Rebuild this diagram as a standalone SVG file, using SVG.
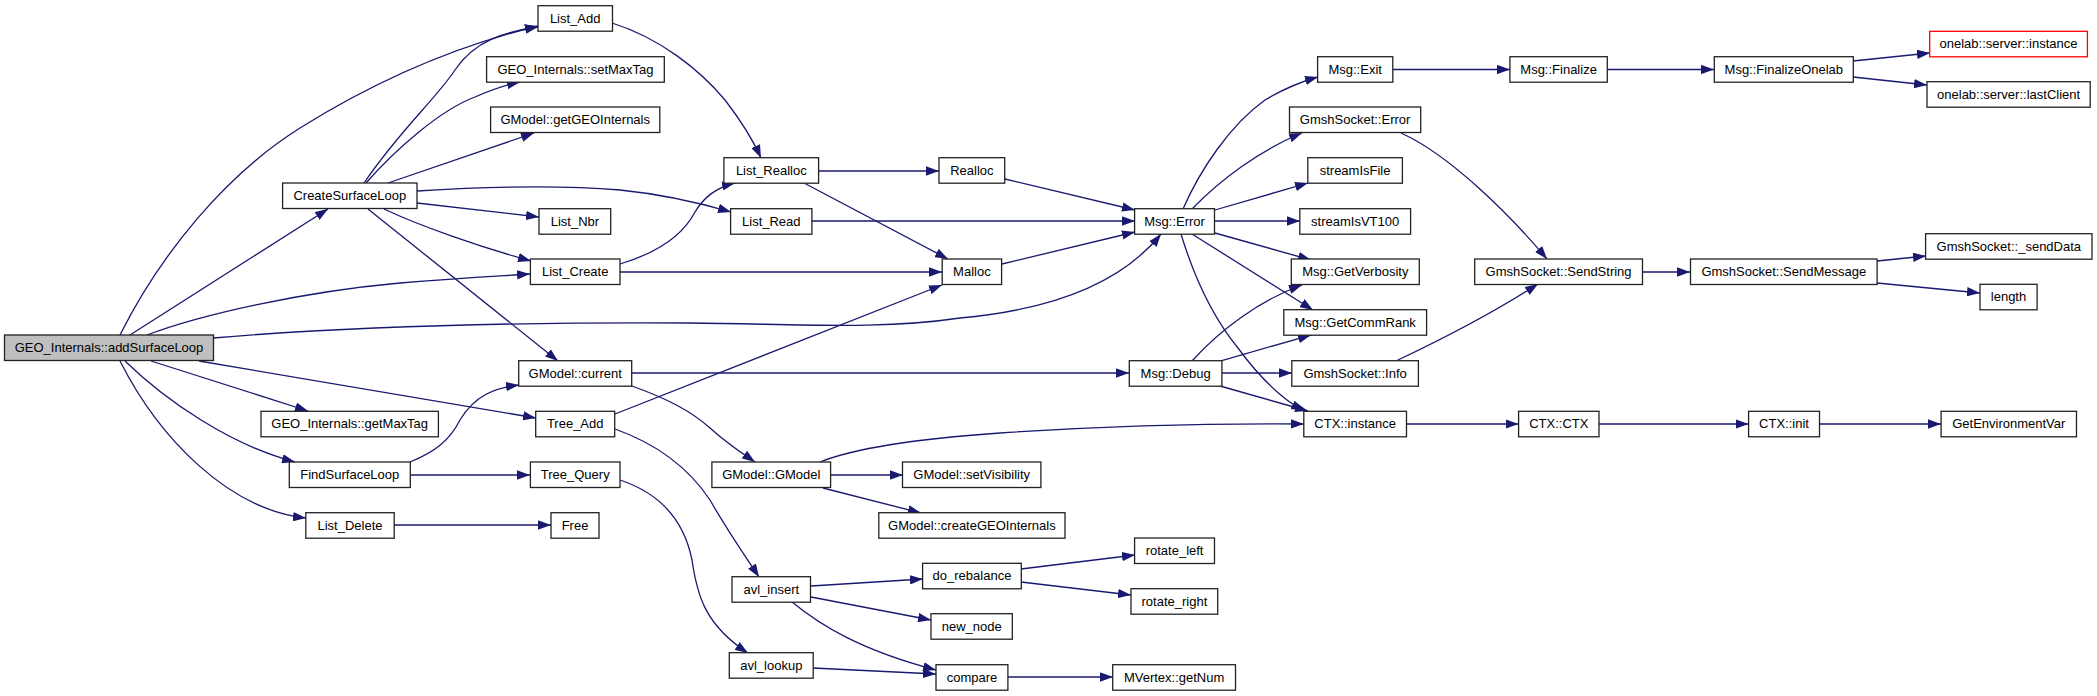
<svg xmlns="http://www.w3.org/2000/svg" width="2097" height="696" viewBox="0 0 2097 696">
<style>
.n rect{fill:#fff;stroke:#222;stroke-width:1.3}
.n text{font-family:"Liberation Sans",Arial,Helvetica,sans-serif;font-size:13px;text-anchor:middle;fill:#000}
#n0 rect{fill:#bfbfbf}
#n45 rect{stroke:#ff0000}
.e path{fill:none;stroke:#191970;stroke-width:1.3;marker-end:url(#a)}
</style>
<defs>
<marker id="a" markerUnits="userSpaceOnUse" viewBox="0 0 13 9.4" refX="13" refY="4.7" markerWidth="13" markerHeight="9.4" orient="auto"><path d="M0,0 L13,4.7 L0,9.4 z" fill="#191970"/></marker>
</defs>
<rect width="2097" height="696" fill="#fff"/>
<g id="edges" class="e">
<path d="M120,335 C160,255 225,175 300,128 C380,78 460,45 538,26"/>
<path d="M130,335 L328,209"/>
<path d="M147,335 C200,315 300,292 400,283 C460,278 500,276 530,274"/>
<path d="M213,338 C330,328 500,322 690,323 C800,324 880,330 960,318 C1050,310 1120,285 1161,234"/>
<path d="M151,361 L308,411"/>
<path d="M125,361 C165,400 230,445 295,462"/>
<path d="M120,361 C160,440 230,510 306,518"/>
<path d="M199,361 L536,418"/>
<path d="M364,183 C400,130 435,100 455,70 C475,40 505,32 538,27"/>
<path d="M366,183 C395,150 440,110 475,97 C495,88 505,85 520,82"/>
<path d="M388,183 L534,133"/>
<path d="M417,191 C480,187 560,185 620,190 C660,194 700,203 731,212"/>
<path d="M417,203 L539,217"/>
<path d="M384,209 C420,226 480,247 531,261"/>
<path d="M368,209 L558,361"/>
<path d="M612,23 C660,38 700,70 725,100 C742,122 753,140 761,158"/>
<path d="M620,264 C660,252 683,235 695,212 C705,195 718,187 735,183"/>
<path d="M620,272 L942,272"/>
<path d="M819,171 L939,171"/>
<path d="M804,183 L948,259"/>
<path d="M812,221 L1135,221"/>
<path d="M1005,179 L1135,210"/>
<path d="M1002,264 L1135,232"/>
<path d="M615,414 L942,285"/>
<path d="M632,373 L1129,373"/>
<path d="M632,386 C665,398 690,410 710,428 C730,446 745,455 755,462"/>
<path d="M615,429 C660,445 690,470 710,500 C730,535 748,560 759,577"/>
<path d="M620,480 C665,495 685,525 692,560 C697,595 705,625 748,653"/>
<path d="M410,462 C435,452 450,440 460,420 C475,395 495,388 519,385"/>
<path d="M410,475 L530,475"/>
<path d="M394,525 L551,525"/>
<path d="M811,586 L923,579"/>
<path d="M811,597 L931,620"/>
<path d="M792,602 C820,625 860,650 936,670"/>
<path d="M813,668 L936,674"/>
<path d="M1021,569 L1135,555"/>
<path d="M1021,582 L1131,595"/>
<path d="M1008,677 L1113,677"/>
<path d="M820,462 C850,450 900,440 1000,433 C1120,425 1220,423.5 1304,424"/>
<path d="M831,475 L903,475"/>
<path d="M823,488 L921,513"/>
<path d="M1222,373 L1292,373"/>
<path d="M1220,386 L1308,411"/>
<path d="M1181,234 C1195,280 1215,320 1238,348 C1260,378 1280,398 1304,411"/>
<path d="M1192,361 C1220,330 1260,300 1302,285"/>
<path d="M1220,361 L1311,335"/>
<path d="M1183,209 C1200,170 1230,125 1265,100 C1285,88 1300,82 1318,77"/>
<path d="M1192,209 C1220,180 1260,150 1302,133"/>
<path d="M1215,210 L1308,183"/>
<path d="M1215,221 L1300,221"/>
<path d="M1215,233 L1311,260"/>
<path d="M1192,234 L1313,310"/>
<path d="M1393,69.5 L1510,69.5"/>
<path d="M1607,69.5 L1714,69.5"/>
<path d="M1853,61 L1930,53"/>
<path d="M1853,77 L1927,85"/>
<path d="M1401,133 C1450,155 1510,215 1547,259"/>
<path d="M1396,361 C1430,345 1490,315 1538,284"/>
<path d="M1642,272 L1690,272"/>
<path d="M1877,261 L1926,256"/>
<path d="M1877,283 L1980,293"/>
<path d="M1406.5,424 L1518.6,424"/>
<path d="M1599,424 L1748.6,424"/>
<path d="M1819.5,424 L1941,424"/>
</g>
<g id="n0" class="n"><rect x="4.5" y="335" width="209" height="25.5"/><text x="109" y="352">GEO_Internals::addSurfaceLoop</text></g>
<g id="n1" class="n"><rect x="282.6" y="183" width="134.4" height="25.5"/><text x="349.8" y="200">CreateSurfaceLoop</text></g>
<g id="n2" class="n"><rect x="261" y="411.3" width="177.4" height="25.5"/><text x="349.7" y="428.3">GEO_Internals::getMaxTag</text></g>
<g id="n3" class="n"><rect x="289.3" y="462" width="121" height="25.5"/><text x="349.8" y="479">FindSurfaceLoop</text></g>
<g id="n4" class="n"><rect x="305.8" y="512.7" width="88.4" height="25.5"/><text x="350" y="529.7">List_Delete</text></g>
<g id="n5" class="n"><rect x="538" y="5.7" width="74.5" height="25.5"/><text x="575.2" y="22.7">List_Add</text></g>
<g id="n6" class="n"><rect x="486.6" y="56.7" width="177.7" height="25.5"/><text x="575.5" y="73.7">GEO_Internals::setMaxTag</text></g>
<g id="n7" class="n"><rect x="490.6" y="107" width="169.2" height="25.5"/><text x="575.2" y="124">GModel::getGEOInternals</text></g>
<g id="n8" class="n"><rect x="539" y="208.7" width="71.7" height="25.5"/><text x="574.9" y="225.7">List_Nbr</text></g>
<g id="n9" class="n"><rect x="530.4" y="259" width="89.6" height="25.5"/><text x="575.2" y="276">List_Create</text></g>
<g id="n10" class="n"><rect x="518.7" y="360.7" width="113" height="25.5"/><text x="575.2" y="377.7">GModel::current</text></g>
<g id="n11" class="n"><rect x="535.7" y="411.3" width="79" height="25.5"/><text x="575.2" y="428.3">Tree_Add</text></g>
<g id="n12" class="n"><rect x="530.4" y="462" width="89.6" height="25.5"/><text x="575.2" y="479">Tree_Query</text></g>
<g id="n13" class="n"><rect x="551" y="512.7" width="48" height="25.5"/><text x="575" y="529.7">Free</text></g>
<g id="n14" class="n"><rect x="723.9" y="157.7" width="94.7" height="25.5"/><text x="771.3" y="174.7">List_Realloc</text></g>
<g id="n15" class="n"><rect x="730.6" y="208.7" width="81.3" height="25.5"/><text x="771.3" y="225.7">List_Read</text></g>
<g id="n16" class="n"><rect x="711.9" y="462" width="118.7" height="25.5"/><text x="771.3" y="479">GModel::GModel</text></g>
<g id="n17" class="n"><rect x="732" y="576.7" width="78.5" height="25.5"/><text x="771.3" y="593.7">avl_insert</text></g>
<g id="n18" class="n"><rect x="729.3" y="652.7" width="83.9" height="25.5"/><text x="771.3" y="669.7">avl_lookup</text></g>
<g id="n19" class="n"><rect x="939" y="157.7" width="65.7" height="25.5"/><text x="971.9" y="174.7">Realloc</text></g>
<g id="n20" class="n"><rect x="942.2" y="259" width="59.4" height="25.5"/><text x="971.9" y="276">Malloc</text></g>
<g id="n21" class="n"><rect x="902.5" y="462" width="138.4" height="25.5"/><text x="971.7" y="479">GModel::setVisibility</text></g>
<g id="n22" class="n"><rect x="878.8" y="512.7" width="186.2" height="25.5"/><text x="971.9" y="529.7">GModel::createGEOInternals</text></g>
<g id="n23" class="n"><rect x="922.6" y="563.3" width="98.7" height="25.5"/><text x="972" y="580.3">do_rebalance</text></g>
<g id="n24" class="n"><rect x="931" y="613.7" width="81.3" height="25.5"/><text x="971.7" y="630.7">new_node</text></g>
<g id="n25" class="n"><rect x="936" y="664.7" width="71.9" height="25.5"/><text x="972" y="681.7">compare</text></g>
<g id="n26" class="n"><rect x="1134.6" y="208.7" width="79.9" height="25.5"/><text x="1174.6" y="225.7">Msg::Error</text></g>
<g id="n27" class="n"><rect x="1129.3" y="360.7" width="92.6" height="25.5"/><text x="1175.6" y="377.7">Msg::Debug</text></g>
<g id="n28" class="n"><rect x="1134.6" y="538" width="79.9" height="25.5"/><text x="1174.6" y="555">rotate_left</text></g>
<g id="n29" class="n"><rect x="1131" y="588.7" width="86.7" height="25.5"/><text x="1174.4" y="605.7">rotate_right</text></g>
<g id="n30" class="n"><rect x="1112.7" y="664.7" width="122.8" height="25.5"/><text x="1174.1" y="681.7">MVertex::getNum</text></g>
<g id="n31" class="n"><rect x="1317.6" y="56.7" width="75.2" height="25.5"/><text x="1355.2" y="73.7">Msg::Exit</text></g>
<g id="n32" class="n"><rect x="1289.5" y="107" width="131.2" height="25.5"/><text x="1355.1" y="124">GmshSocket::Error</text></g>
<g id="n33" class="n"><rect x="1307.8" y="157.7" width="94.6" height="25.5"/><text x="1355.1" y="174.7">streamIsFile</text></g>
<g id="n34" class="n"><rect x="1299.8" y="208.7" width="110.8" height="25.5"/><text x="1355.2" y="225.7">streamIsVT100</text></g>
<g id="n35" class="n"><rect x="1291.3" y="259" width="128" height="25.5"/><text x="1355.3" y="276">Msg::GetVerbosity</text></g>
<g id="n36" class="n"><rect x="1283.8" y="309.7" width="142.8" height="25.5"/><text x="1355.2" y="326.7">Msg::GetCommRank</text></g>
<g id="n37" class="n"><rect x="1291.8" y="360.7" width="126.6" height="25.5"/><text x="1355.1" y="377.7">GmshSocket::Info</text></g>
<g id="n38" class="n"><rect x="1303.8" y="411.3" width="102.7" height="25.5"/><text x="1355.2" y="428.3">CTX::instance</text></g>
<g id="n39" class="n"><rect x="1509.9" y="56.7" width="97.4" height="25.5"/><text x="1558.6" y="73.7">Msg::Finalize</text></g>
<g id="n40" class="n"><rect x="1474.7" y="259" width="167.8" height="25.5"/><text x="1558.6" y="276">GmshSocket::SendString</text></g>
<g id="n41" class="n"><rect x="1518.6" y="411.3" width="80.4" height="25.5"/><text x="1558.8" y="428.3">CTX::CTX</text></g>
<g id="n42" class="n"><rect x="1714.3" y="56.7" width="139" height="25.5"/><text x="1783.8" y="73.7">Msg::FinalizeOnelab</text></g>
<g id="n43" class="n"><rect x="1690.5" y="259" width="186.6" height="25.5"/><text x="1783.8" y="276">GmshSocket::SendMessage</text></g>
<g id="n44" class="n"><rect x="1748.6" y="411.3" width="70.9" height="25.5"/><text x="1784" y="428.3">CTX::init</text></g>
<g id="n45" class="n"><rect x="1929.7" y="31.3" width="157.7" height="25.5"/><text x="2008.5" y="48.3">onelab::server::instance</text></g>
<g id="n46" class="n"><rect x="1927" y="81.7" width="163.2" height="25.5"/><text x="2008.6" y="98.7">onelab::server::lastClient</text></g>
<g id="n47" class="n"><rect x="1925.6" y="233.7" width="166.4" height="25.5"/><text x="2008.8" y="250.7">GmshSocket::_sendData</text></g>
<g id="n48" class="n"><rect x="1980" y="284.3" width="57.1" height="25.5"/><text x="2008.5" y="301.3">length</text></g>
<g id="n49" class="n"><rect x="1941.1" y="411.3" width="135.4" height="25.5"/><text x="2008.8" y="428.3">GetEnvironmentVar</text></g>
</svg>
